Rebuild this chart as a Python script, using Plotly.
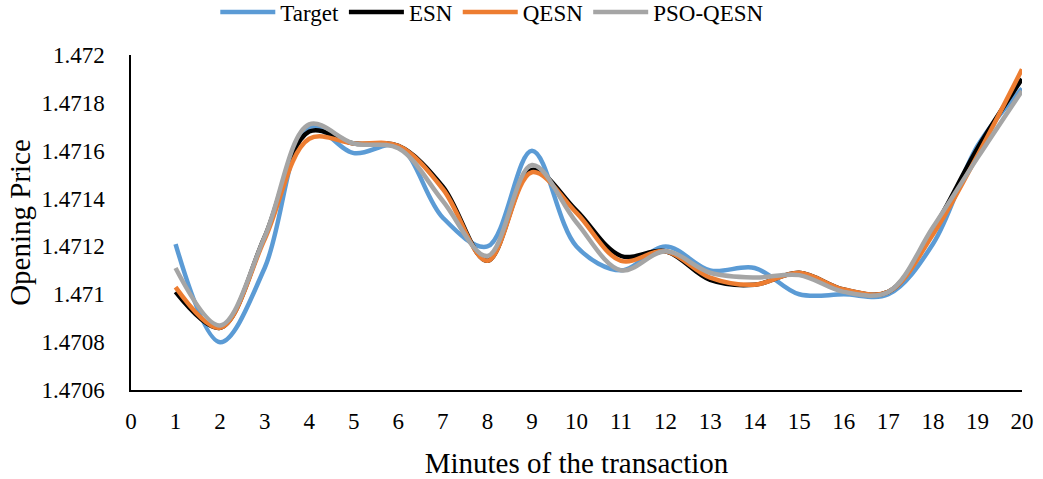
"""Opening price forecast comparison: Target vs ESN, QESN, PSO-QESN."""

import plotly.graph_objects as go

minutes = list(range(1, 21))

target = [1.47121, 1.47080, 1.47111, 1.47170, 1.47159, 1.47162, 1.47132, 1.47120,
          1.47160, 1.47120, 1.47110, 1.47120, 1.47110, 1.47111, 1.47100, 1.47100,
          1.47100, 1.47121, 1.47162, 1.47186]
esn = [1.47101, 1.47086, 1.47124, 1.47168, 1.47163, 1.47162, 1.47145, 1.47114,
       1.47152, 1.47135, 1.47116, 1.47118, 1.47106, 1.47104, 1.47109, 1.47102,
       1.47101, 1.47127, 1.47161, 1.47190]
qesn = [1.47103, 1.47086, 1.47123, 1.47165, 1.47163, 1.47162, 1.47144, 1.47114,
        1.47151, 1.47134, 1.47114, 1.47118, 1.47107, 1.47104, 1.47109, 1.47102,
        1.47101, 1.47125, 1.47158, 1.47194]
pso_qesn = [1.47111, 1.47087, 1.47124, 1.47171, 1.47163, 1.47161, 1.47139, 1.47116,
            1.47154, 1.47130, 1.47110, 1.47118, 1.47109, 1.47107, 1.47108, 1.47101,
            1.47101, 1.47128, 1.47157, 1.47185]

y_ticks = [1.4706, 1.4708, 1.471, 1.4712, 1.4714, 1.4716, 1.4718, 1.472]
y_tick_text = ["1.4706", "1.4708", "1.471", "1.4712", "1.4714", "1.4716", "1.4718", "1.472"]
x_ticks = list(range(0, 21))

series = [
    ("Target", target, "#5B9BD5"),
    ("ESN", esn, "#000000"),
    ("QESN", qesn, "#ED7D31"),
    ("PSO-QESN", pso_qesn, "#A5A5A5"),
]

fig = go.Figure()
for name, values, color in series:
    fig.add_trace(
        go.Scatter(
            x=minutes,
            y=values,
            mode="lines",
            name=name,
            line=dict(color=color, width=4.5, shape="spline", smoothing=1.0),
        )
    )

font_family = "Liberation Serif, Times New Roman, serif"
fig.update_layout(
    width=1043,
    height=479,
    margin=dict(l=131, r=21, t=55, b=89),
    paper_bgcolor="white",
    plot_bgcolor="white",
    font=dict(family=font_family, color="black", size=23),
    showlegend=True,
    legend=dict(
        orientation="h",
        x=0.472,
        xref="container",
        xanchor="center",
        y=0.975,
        yref="container",
        yanchor="middle",
        font=dict(size=23),
        itemwidth=55,
        tracegroupgap=0,
    ),
)
fig.update_xaxes(
    range=[0, 20],
    tickvals=x_ticks,
    showline=True,
    linecolor="black",
    linewidth=1.5,
    showgrid=False,
    zeroline=False,
    ticks="",
    automargin=False,
    ticklabelstandoff=10,
    tickfont=dict(size=23),
    title=dict(text="Minutes of the transaction", font=dict(size=29), standoff=22),
)
fig.update_yaxes(
    range=[1.4706, 1.472],
    tickvals=y_ticks,
    ticktext=y_tick_text,
    showline=True,
    linecolor="black",
    linewidth=1.5,
    showgrid=False,
    zeroline=False,
    ticks="",
    automargin=False,
    ticklabelstandoff=20,
    tickfont=dict(size=23),
    title=dict(text="Opening Price", font=dict(size=29), standoff=2),
)

# drop the default 8px body margin so the figure sits at the window origin
fig.write_html(
    "out.html",
    config={"displayModeBar": False},
    post_script="document.body.style.margin='0';",
)
